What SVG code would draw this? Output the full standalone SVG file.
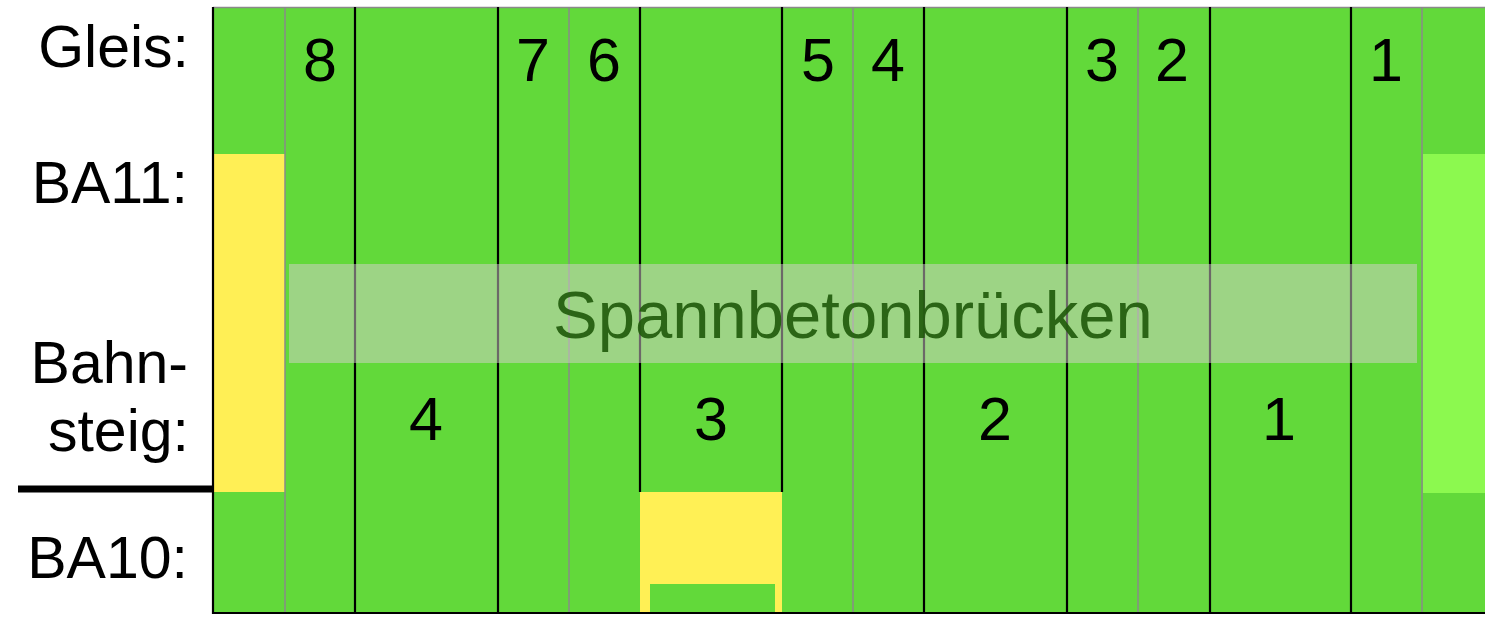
<svg xmlns="http://www.w3.org/2000/svg" width="1485" height="618" viewBox="0 0 1485 618">
<style>
.lbl{font-family:"Liberation Sans",Arial,sans-serif;font-size:59px;fill:#000;text-anchor:end}
.num{font-family:"Liberation Sans",Arial,sans-serif;font-size:61px;fill:#000;text-anchor:middle}
.blk{stroke:#000;stroke-width:2.2}
.gry{stroke:#8a8a8a;stroke-width:1.5}
</style>
<rect width="1485" height="618" fill="#fff"/>
<g id="field">
<rect x="213" y="7" width="1272" height="606" fill="#62d93a"/>
<rect x="214" y="154" width="71" height="338" fill="#ffef55"/>
<rect x="1423" y="154" width="62" height="339" fill="#8cf94f"/>
</g>
<g id="connectors">
<line class="gry" x1="213" y1="7.5" x2="1485" y2="7.5"/>
<line class="gry" x1="285" y1="7" x2="285" y2="613"/>
<line class="gry" x1="569" y1="7" x2="569" y2="613"/>
<line class="gry" x1="853" y1="7" x2="853" y2="613"/>
<line class="gry" x1="1138" y1="7" x2="1138" y2="613"/>
<line class="gry" x1="1422" y1="7" x2="1422" y2="613"/>
<line class="blk" x1="213" y1="7" x2="213" y2="614"/>
<line class="blk" x1="355" y1="7" x2="355" y2="613"/>
<line class="blk" x1="498" y1="7" x2="498" y2="613"/>
<line class="blk" x1="640" y1="7" x2="640" y2="492"/>
<line class="blk" x1="782" y1="7" x2="782" y2="492"/>
<line class="blk" x1="924" y1="7" x2="924" y2="613"/>
<line class="blk" x1="1067" y1="7" x2="1067" y2="613"/>
<line class="blk" x1="1210" y1="7" x2="1210" y2="613"/>
<line class="blk" x1="1351" y1="7" x2="1351" y2="613"/>
<line x1="18" y1="489" x2="213" y2="489" stroke="#000" stroke-width="7"/>
</g>
<g id="ba10-box">
<rect x="640" y="492" width="142" height="121" fill="#fff055"/>
<rect x="650" y="584" width="125" height="29" fill="#62d93a"/>
</g>
<line class="blk" x1="213" y1="613" x2="1485" y2="613"/>
<g id="labels">
<text class="lbl" x="189" y="67">Gleis:</text>
<text class="lbl" x="188" y="203">BA11:</text>
<text class="lbl" x="188" y="383">Bahn-</text>
<text class="lbl" x="189" y="451">steig:</text>
<text class="lbl" x="188" y="578">BA10:</text>
</g>
<g id="tracks">
<text class="num" x="320" y="81">8</text>
<text class="num" x="533" y="81">7</text>
<text class="num" x="604" y="81">6</text>
<text class="num" x="818" y="81">5</text>
<text class="num" x="888" y="81">4</text>
<text class="num" x="1102" y="81">3</text>
<text class="num" x="1172" y="81">2</text>
<text class="num" x="1386" y="81">1</text>
</g>
<g id="platforms">
<text class="num" x="426" y="440">4</text>
<text class="num" x="711" y="440">3</text>
<text class="num" x="995" y="440">2</text>
<text class="num" x="1279" y="440">1</text>
</g>
<g id="spannbeton">
<rect x="289" y="264" width="1128" height="99" fill="#d8d0d0" opacity="0.5"/>
<text x="853" y="338" font-family="'Liberation Sans',Arial,sans-serif" font-size="67" fill="#1f5a0a" opacity="0.9" text-anchor="middle">Spannbetonbrücken</text>
</g>
</svg>
